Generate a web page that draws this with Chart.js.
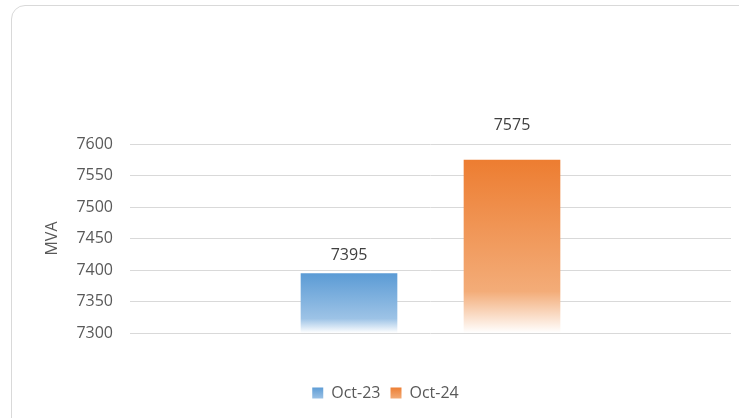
<!DOCTYPE html>
<html><head><meta charset="utf-8">
<script src="https://cdn.jsdelivr.net/npm/chart.js@4"></script>
<style>
html,body{margin:0;padding:0;background:#fff;overflow:hidden;}
#frame{position:absolute;left:11px;top:5px;width:760px;height:440px;border:1px solid #d9d9d9;border-radius:14px;box-sizing:border-box;}
#wrap{position:absolute;left:0;top:0;width:739px;height:418px;}
</style></head><body>
<div id="frame"></div>
<div id="wrap"><canvas id="c" width="739" height="418"></canvas></div>
<script>
const categories = [''];
const seriesNames = ['Oct-23', 'Oct-24'];
const oct23 = [7395];
const oct24 = [7575];
const yTicks = [7300, 7350, 7400, 7450, 7500, 7550, 7600];

const topColors = ['#5B9BD5', '#ED7D31'];
const midColors = ['#9DC3E6', '#F3AC78'];
const labelOffsets = [18, 34];

function barGradient(ctx, i) {
  const chart = ctx.chart;
  if (!chart.chartArea || ctx.parsed === undefined) return topColors[i];
  const ys = chart.scales.y;
  const top = ys.getPixelForValue(ctx.parsed.y);
  const bottom = ys.getPixelForValue(ys.min);
  if (!isFinite(top) || !isFinite(bottom) || bottom - top < 1) return topColors[i];
  const g = chart.ctx.createLinearGradient(0, top, 0, bottom);
  g.addColorStop(0, topColors[i]);
  g.addColorStop(0.76, midColors[i]);
  g.addColorStop(1, '#FFFFFF');
  return g;
}

const labelPlugin = {
  id: 'valLabels',
  afterDatasetsDraw(chart) {
    const c = chart.ctx;
    c.save();
    c.font = '16px "Open Sans"';
    c.fillStyle = '#404040';
    c.textAlign = 'center';
    c.textBaseline = 'middle';
    chart.data.datasets.forEach((ds, i) => {
      chart.getDatasetMeta(i).data.forEach((bar, j) => {
        c.fillText(String(ds.data[j]), bar.x, bar.y - labelOffsets[i]);
      });
    });
    c.restore();
  }
};

new Chart(document.getElementById('c'), {
  type: 'bar',
  data: {
    labels: categories,
    datasets: [
      { label: seriesNames[0], data: oct23, backgroundColor: c => barGradient(c, 0), borderWidth: 0 },
      { label: seriesNames[1], data: oct24, backgroundColor: c => barGradient(c, 1), borderWidth: 0 }
    ]
  },
  options: {
    responsive: false,
    animation: false,
    devicePixelRatio: 1,
    layout: { padding: { left: 40, right: 8, top: 144, bottom: 7 } },
    datasets: { bar: { categoryPercentage: 0.5424, barPercentage: 0.593 } },
    scales: {
      x: {
        grid: { display: false, drawTicks: false },
        border: { display: false },
        ticks: { display: false },
        afterFit(s) { s.height = 42; }
      },
      y: {
        min: 7300, max: 7600,
        afterBuildTicks(s) { s.ticks = yTicks.map(v => ({ value: v })); },
        afterFit(s) { s.width = 90; },
        grid: { color: '#d9d9d9', lineWidth: 1, drawTicks: false },
        border: { display: false },
        ticks: { color: '#595959', font: { family: 'Open Sans', size: 16 }, padding: 17, callback: v => String(v) },
        title: { display: true, text: 'MVA', color: '#595959', font: { family: 'Open Sans', size: 16 }, padding: { top: 3, bottom: 0 } }
      }
    },
    plugins: {
      tooltip: { enabled: false },
      legend: {
        position: 'bottom',
        labels: {
          color: '#595959',
          font: { family: 'Open Sans', size: 16 },
          boxWidth: 11, boxHeight: 11, padding: 10,
          generateLabels(chart) {
            return chart.data.datasets.map((ds, i) => {
              const g = chart.ctx.createLinearGradient(0, 387, 0, 399);
              g.addColorStop(0, topColors[i]);
              g.addColorStop(1, midColors[i]);
              return { text: ds.label, fillStyle: g, strokeStyle: 'rgba(0,0,0,0)', lineWidth: 0, datasetIndex: i, fontColor: '#595959' };
            });
          }
        }
      }
    }
  },
  plugins: [labelPlugin]
});
</script>
</body></html>
